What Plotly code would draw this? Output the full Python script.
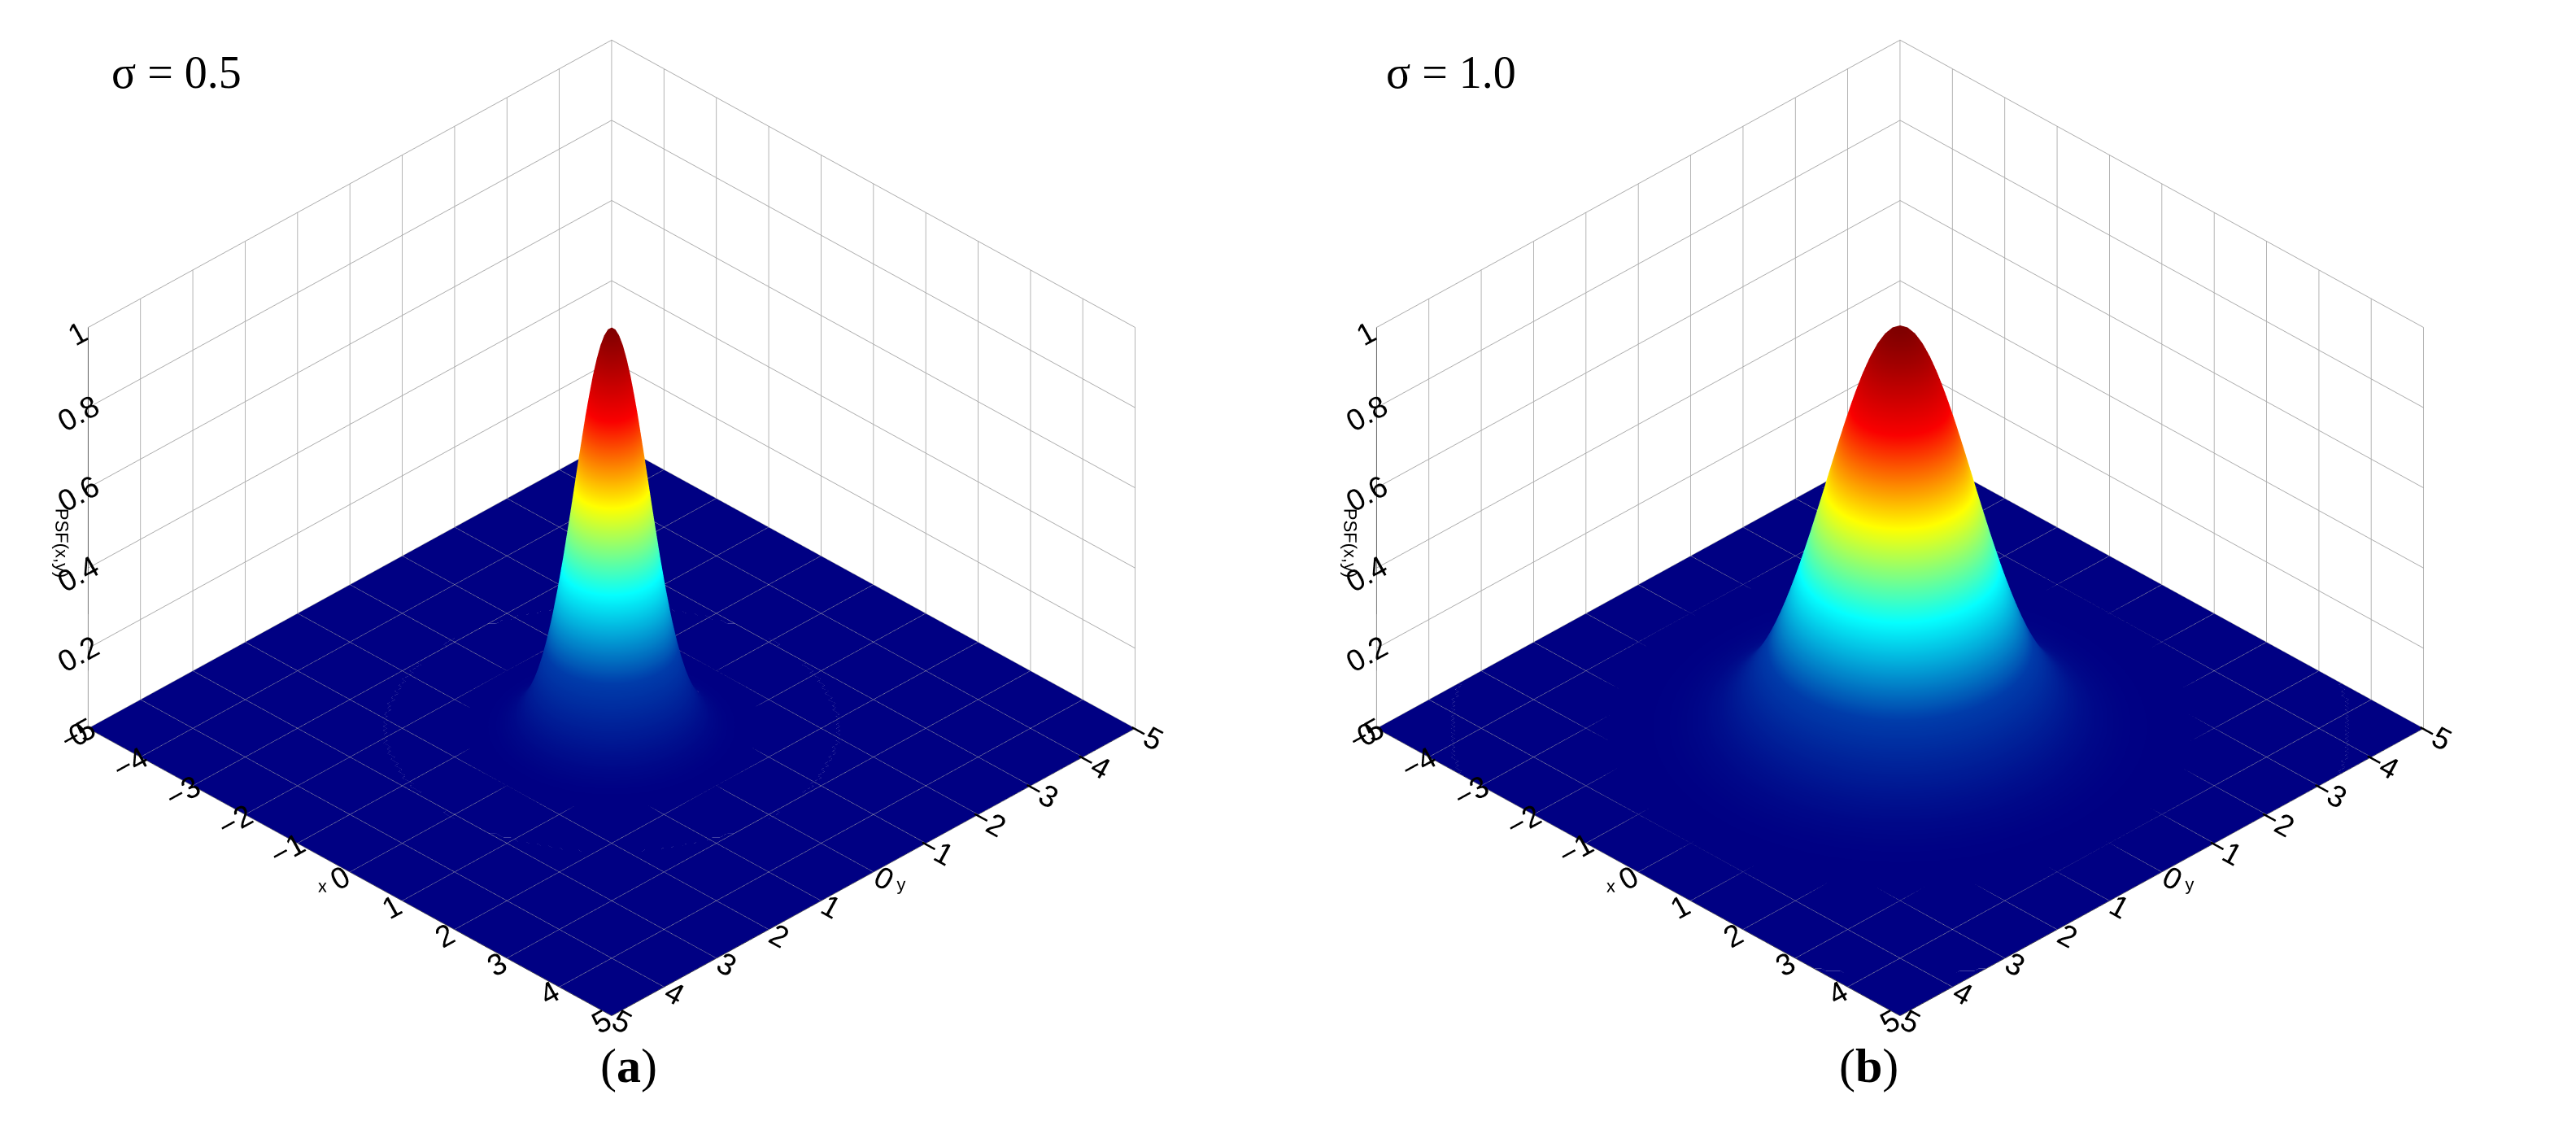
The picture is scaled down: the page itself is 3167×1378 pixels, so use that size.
import numpy as np
import plotly.graph_objects as go

# grid coordinates and the two PSF widths
grid = np.linspace(-5, 5, 141)
sigmas = [0.5, 1.0]
titles = ["σ = 0.5", "σ = 1.0"]
panel_labels = ["(<b>a</b>)", "(<b>b</b>)"]
tick_vals = [-5, -4, -3, -2, -1, 0, 1, 2, 3, 4, 5]
z_ticks = [0, 0.2, 0.4, 0.6, 0.8, 1]

fig = go.Figure()
X, Y = np.meshgrid(grid, grid)
for i, s in enumerate(sigmas):
    Z = np.exp(-(X**2 + Y**2) / (2 * s**2))
    fig.add_trace(go.Surface(x=grid, y=grid, z=Z, colorscale="Jet", cmin=0, cmax=1,
                             showscale=False, scene="scene" if i == 0 else "scene2",
                             lighting=dict(ambient=1.0, diffuse=0.1, specular=0.0, fresnel=0)))

axis_common = dict(showbackground=True, backgroundcolor="white", gridcolor="#aaaaaa",
                   linecolor="black", showline=True, zeroline=False,
                   tickfont=dict(size=21, family="Arial", color="black"), ticks="")
layout = dict(width=3167, height=1378, paper_bgcolor="white",
              margin=dict(l=0, r=0, t=0, b=0), font=dict(family="Arial"))
domains = [[0.0, 0.47], [0.5, 0.97]]
for i in range(2):
    key = "scene" if i == 0 else "scene2"
    # symmetric surface: plotly's y axis is labelled x and its x axis is labelled y
    layout[key] = dict(
        domain=dict(x=domains[i], y=[0.07, 1.0]),
        xaxis=dict(axis_common, range=[-5, 5], tickvals=tick_vals,
                   title=dict(text="y", font=dict(size=22, color="black"))),
        yaxis=dict(axis_common, range=[-5, 5], tickvals=tick_vals,
                   title=dict(text="x", font=dict(size=22, color="black"))),
        zaxis=dict(axis_common, range=[0, 1], tickvals=z_ticks,
                   title=dict(text="PSF(x,y)", font=dict(size=22, color="black"))),
        camera=dict(eye=dict(x=0.7, y=0.7, z=0.65), projection=dict(type="orthographic")),
        aspectmode="manual", aspectratio=dict(x=1.42, y=1.42, z=0.92),
    )
fig.update_layout(**layout)

for i in range(2):
    fig.add_annotation(x=[0.04, 0.535][i], y=0.965, xref="paper", yref="paper", text=titles[i],
                       xanchor="left", showarrow=False,
                       font=dict(size=56, family="Liberation Serif", color="black"))
    fig.add_annotation(x=[0.23, 0.735][i], y=0.03, xref="paper", yref="paper", text=panel_labels[i],
                       showarrow=False, font=dict(size=60, family="Liberation Serif", color="black"))

fig.write_html("out.html")
